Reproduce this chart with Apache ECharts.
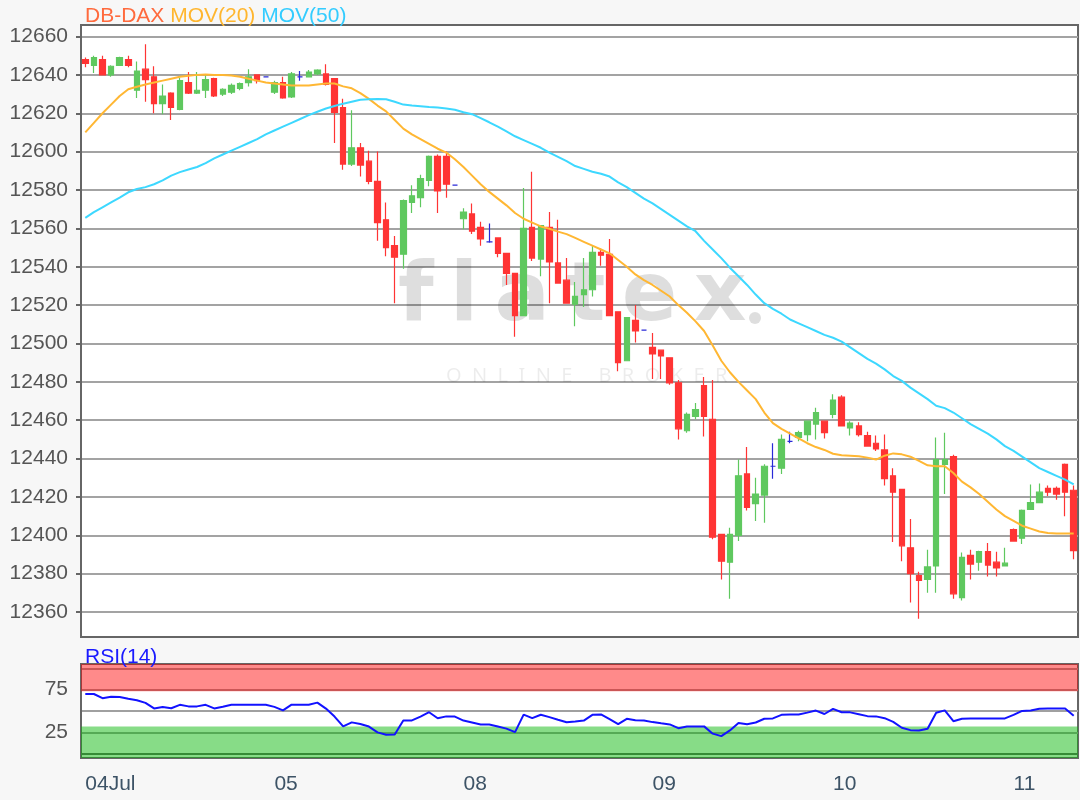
<!DOCTYPE html>
<html>
<head>
<meta charset="utf-8">
<title>DB-DAX</title>
<script src="https://cdn.jsdelivr.net/npm/echarts@6/dist/echarts.min.js"></script>
<style>
  html, body { margin: 0; padding: 0; background: #f7f7f7; }
  #chart { width: 1080px; height: 800px; }
</style>
</head>
<body>
<div id="chart"></div>
<script>
// trading days and number of candles shown per day
var days = ['04Jul', '05', '08', '09', '10', '11'];
var dayCounts = [22, 22, 22, 21, 21, 8];

var opens = [12648,12645,12648,12640,12645,12648,12632,12643,12639,12625,12630.5,12622,12636,12630.5,12632,12638,12630,12631,12633,12636,12640,12639,
  12631,12636,12628.5,12639,12639,12640.5,12640.5,12638,12623,12593.5,12602,12595,12584.5,12564.5,12551,12546.5,12573.5,12576,12585,12597.5,12597.5,12582.5,
  12565,12567.5,12560.5,12553,12555,12547,12536.5,12514.5,12560.5,12544,12560.5,12542,12533,12520.5,12525.5,12528,12547.5,12546.5,12516.5,12491,12512,12507,
  12498,12496.5,12492.5,12479.5,12454.5,12462,12478,12460.5,12400.5,12386,12400,12432,12416.5,12421,12436,12435,12449,12451,12452.5,12458,12459.5,
  12463,12472,12456,12457,12452,12448,12444.5,12431,12424,12393.5,12379,12377,12384,12437,12441,12367.5,12389.5,12386,12391.5,12386,12384,
  12403,12398.5,12413.5,12417,12424.5,12424.5,12437,12423.5];
var highs = [12649,12650,12650,12645,12649.5,12650,12647,12656,12644.5,12635,12631,12638.5,12641.5,12641.5,12640,12638.5,12633,12635.5,12636,12643,12640,12639,
  12637,12639,12641.5,12642,12642.5,12643,12645.5,12638,12627.5,12621.5,12604.5,12600.5,12600,12573.5,12556,12575,12582.5,12588,12598,12598.5,12600,12582.5,
  12570.5,12573,12563.5,12562.5,12555,12547,12536.5,12581,12589.5,12561.5,12568.5,12564.5,12544.5,12532,12544.5,12551,12549.5,12554.5,12516.5,12513.5,12520,12507,
  12505.5,12496.5,12492.5,12481,12464,12469,12482.5,12481,12400.5,12404,12439.5,12446,12430,12437,12448,12452.5,12454,12454.5,12459.5,12466.5,12459.5,
  12473.5,12473,12459.5,12459,12454,12452,12452.5,12435,12424,12408.5,12381,12392.5,12451,12453.5,12442,12391,12392.5,12392,12396,12391.5,12393.5,
  12403.5,12413.5,12426.5,12427,12426,12425.5,12437.5,12426];
var lows = [12644,12641,12640,12639,12645,12644,12628,12626,12620,12619.5,12616.5,12621.5,12630,12630,12628,12628.5,12629,12630,12632,12634,12635.5,12639,
  12630,12627.5,12628,12637,12639,12640,12634.5,12604.5,12590.5,12592.5,12587,12583,12553.5,12545.5,12521,12539,12568,12571,12582,12568,12576,12582.5,
  12559.5,12557,12551,12552.5,12545,12530.5,12503.5,12514.5,12543,12535,12521,12531.5,12521,12509,12519,12524.5,12540.5,12514.5,12485.5,12491,12500.5,12507,
  12481.5,12481.5,12478.5,12450,12453.5,12460.5,12451.5,12398,12377,12367,12397,12413,12407.5,12406.5,12429.5,12432,12448,12449,12449,12450,12450.5,
  12461,12457,12452,12451.5,12446.5,12444,12426,12396.5,12386.5,12365,12356.5,12370,12370,12421.5,12367,12366,12377,12381.5,12378.5,12378.5,12384,
  12397,12395.5,12413.5,12417,12420.5,12418.5,12410,12387.5];
var closes = [12646,12649,12640,12644.5,12649,12645,12642,12637.5,12625,12629,12623,12637,12630.5,12632,12637.5,12629,12632.5,12634.5,12635.5,12639,12637,12639,
  12636,12628,12640.5,12639,12641.5,12642.5,12635,12620.5,12593.5,12602,12593,12584.5,12563,12550,12545,12574.5,12577,12586,12597.5,12579.5,12583,12582.5,
  12568.5,12558.5,12554.5,12553,12547,12536.5,12514.5,12560,12544.5,12561.5,12542.5,12531.5,12521,12524.5,12528,12547.5,12546,12514.5,12490,12513.5,12506.5,12507,
  12494.5,12493.5,12479.5,12455.5,12463,12465.5,12462,12399,12386.5,12400.5,12431,12414.5,12421.5,12436,12436,12450,12449,12453.5,12459.5,12464,12453.5,
  12470.5,12457,12458.5,12452.5,12446.5,12445,12429.5,12422.5,12394.5,12380,12376.5,12383.5,12439.5,12439.5,12369.5,12388.5,12385,12391.5,12384.5,12383,12385.5,
  12397,12413,12417,12422.5,12422.5,12421.5,12422.5,12392];

var mov20 = [12610,12615,12620,12624.5,12629,12632.5,12633.8,12635,12636,12637,12638,12639,12639.5,12640,12640.2,12640,12640,12639.7,12639,12638,12637,12636,
  12635.5,12635,12634.5,12634.5,12634.5,12635,12635.5,12635.5,12634,12633,12630.5,12627.5,12624,12621,12616.5,12612,12609,12606.5,12604,12601.5,12599.5,12596,
  12592,12587.5,12583,12579,12575.5,12572,12568,12565,12563,12561,12559.8,12558.3,12557,12555,12553,12551,12549,12547,12543.5,12540,12536,12533,
  12530.5,12527.5,12524.5,12520,12516,12511.5,12506.5,12499,12491,12485,12480,12475.5,12471,12464,12458.5,12455.5,12453,12450.5,12448,12446,12444.5,
  12442.5,12441.7,12441.5,12441.2,12440.5,12439.5,12441.5,12442.7,12442.2,12441,12438.8,12436.5,12436,12436,12432.5,12428,12425,12421.5,12417.5,12413.5,12410,
  12407.5,12405,12403.5,12402,12401.2,12401,12401,12401];
var mov50 = [12565.5,12568.5,12571,12573.5,12576,12578.8,12580.5,12581.5,12583,12585,12587.5,12589.3,12590.7,12592,12594,12596.5,12598.5,12600.5,12602.5,12604.5,12606.5,12609,
  12611,12613,12615,12617,12619,12620.8,12622.5,12623.8,12625,12626,12627,12627.3,12627.4,12627.3,12626,12624.5,12624,12623.7,12623.3,12623,12622.5,12621.8,
  12620.5,12619.5,12617.5,12615.3,12613,12610.5,12608,12606,12604,12602,12599.5,12597.3,12595,12592.5,12591,12589.5,12588.5,12587,12584,12581.5,12578.5,12575.5,
  12573,12570,12567,12564,12561,12558.5,12553.5,12549,12544.5,12539.5,12535,12530.5,12525.5,12521,12518,12515.5,12512.5,12510.5,12508.5,12506.5,12504.5,
  12503,12501,12498,12495,12492,12489.5,12486.5,12483,12480.5,12477,12474,12471,12467.5,12466.3,12464,12461,12458,12455.5,12453,12450,12446.5,
  12444,12441,12438,12435,12433,12431,12429,12426.5];
var rsi = [69.9,69.9,65,66.7,66.5,64.3,62.6,59.5,53,54.8,53.2,57.2,55.4,55.4,57.2,53,55,57.4,57.4,57.4,57.4,57.2,
  54.8,50.8,57.4,57.4,57.4,59.8,52.8,43.5,32,36.7,34.8,31.8,25,22.3,22.5,39,39,43.5,48.6,41.5,43.7,43.5,
  38.8,36.6,34.3,34.2,31.8,29.4,25.3,45.7,41.6,45.6,42.8,39.8,36.9,37.8,38.8,45.5,46,40.5,34.6,40.8,39.2,39,
  37,35.6,34.3,29.9,31.8,32,32,23.5,20.6,27.3,36,34.5,36.5,40.9,41.3,45.5,46,46,48.1,50.5,46.5,
  52.5,48.6,48.4,46.2,44,43.7,41.6,37.2,30.4,27.6,27.3,29.3,48,50.7,38.1,41,41.3,41.3,41.3,41.3,41.3,
  45.4,50.1,50.7,52.7,53,53,53,44.5];

var priceTicks = [12360,12380,12400,12420,12440,12460,12480,12500,12520,12540,12560,12580,12600,12620,12640,12660];
var rsiLines = [0, 25, 50, 75, 100];
var rsiLabels = [25, 75];
var rsiHighBand = [73, 105];
var rsiLowBand = [-5, 32];

// category names: day label + running number inside the day
var categories = [];
days.forEach(function (d, di) {
  for (var k = 0; k < dayCounts[di]; k++) categories.push(d + '_' + k);
});
var candles = categories.map(function (c, i) {
  return [opens[i], closes[i], lows[i], highs[i]];
});
function isDayStart(idx, val) { return /_0$/.test(val); }

var font = 'Liberation Sans, Arial, sans-serif';
function titlePart(color) {
  return { color: color, fontSize: 21, fontWeight: 'normal', fontFamily: font };
}

var option = {
  animation: false,
  backgroundColor: '#f7f7f7',
  textStyle: { fontFamily: font },
  title: [{
    left: 80, top: 1,
    text: '{a|DB-DAX} {b|MOV(20)} {c|MOV(50)}',
    textStyle: {
      fontWeight: 'normal', fontSize: 21,
      rich: { a: titlePart('#ff6a3d'), b: titlePart('#ffb62e'), c: titlePart('#33ccff') }
    }
  }, {
    left: 80, top: 642,
    text: 'RSI(14)',
    textStyle: { color: '#1a1aff', fontSize: 21, fontWeight: 'normal', fontFamily: font }
  }],
  // flatex watermark, drawn semi transparent so the grid shows through
  graphic: [{
    type: 'text', left: 398, top: 258, z: 1, silent: true,
    style: { text: 'f\u2009l\u2009a\u2009t\u2009e\u2009x', fontSize: 82, fontWeight: 'bold',
      fill: 'rgba(0,0,0,0.13)', fontFamily: 'DejaVu Sans, sans-serif' }
  }, {
    type: 'circle', z: 1, silent: true,
    shape: { cx: 755, cy: 318, r: 6 },
    style: { fill: 'rgba(0,0,0,0.13)' }
  }, {
    type: 'text', left: 446, top: 366, z: 1, silent: true,
    style: { text: 'O  N  L  I  N  E     B  R  O  K  E  R', fontSize: 20,
      fill: 'rgba(0,0,0,0.075)', fontFamily: 'Noto Sans, sans-serif' }
  }],
  grid: [
    { left: 81, right: 2, top: 25, height: 612, show: true, backgroundColor: '#fff', borderColor: '#666', borderWidth: 2 },
    { left: 81, right: 2, top: 664, height: 94, show: true, backgroundColor: '#fff', borderColor: '#666', borderWidth: 2 }
  ],
  xAxis: [{
    type: 'category', gridIndex: 0, data: categories, boundaryGap: true,
    axisLine: { show: false }, axisTick: { show: false }, axisLabel: { show: false }, splitLine: { show: false }
  }, {
    type: 'category', gridIndex: 1, data: categories, boundaryGap: true,
    axisLine: { lineStyle: { color: '#666', width: 2 } },
    axisTick: { alignWithLabel: true, interval: isDayStart, length: 7, lineStyle: { color: '#556677', width: 2 } },
    axisLabel: {
      interval: isDayStart, align: 'left', margin: 16, color: '#3d5366', fontSize: 21,
      formatter: function (v) { return v.split('_')[0]; }
    },
    splitLine: { show: false }
  }],
  yAxis: [{
    type: 'value', gridIndex: 0, min: 12347, max: 12666,
    axisLine: { show: true, lineStyle: { color: '#666', width: 2 } },
    axisTick: { show: true, length: 5, customValues: priceTicks, lineStyle: { color: '#666', width: 2 } },
    axisLabel: { customValues: priceTicks, margin: 13, color: '#555', fontSize: 21,
      formatter: function (v) { return String(v); } },
    splitLine: { show: true, lineStyle: { color: '#a3a3a3', width: 2 } }
  }, {
    type: 'value', gridIndex: 1, min: -5, max: 105,
    axisLine: { show: true, lineStyle: { color: '#666', width: 2 } },
    axisTick: { show: false, customValues: rsiLines },
    axisLabel: { customValues: rsiLabels, margin: 13, color: '#555', fontSize: 21,
      formatter: function (v) { return String(v); } },
    splitLine: { show: true, lineStyle: { color: '#a0a0a0', width: 2 } }
  }],
  series: [{
    name: 'DB-DAX', type: 'candlestick', xAxisIndex: 0, yAxisIndex: 0, data: candles,
    barWidth: 6,
    itemStyle: {
      color: '#5fc85f', color0: '#ff3434',
      borderColor: '#5fc85f', borderColor0: '#ff3434', borderColorDoji: '#2a2ad8', borderWidth: 1.2
    }
  }, {
    name: 'MOV(20)', type: 'line', xAxisIndex: 0, yAxisIndex: 0, data: mov20,
    symbol: 'none', lineStyle: { color: '#ffb733', width: 2 }
  }, {
    name: 'MOV(50)', type: 'line', xAxisIndex: 0, yAxisIndex: 0, data: mov50,
    symbol: 'none', lineStyle: { color: '#3dd8ff', width: 2 }
  }, {
    name: 'RSI(14)', type: 'line', xAxisIndex: 1, yAxisIndex: 1, data: rsi,
    symbol: 'none', lineStyle: { color: '#1212ff', width: 2 }, z: 5,
    markArea: {
      silent: true,
      data: [
        [{ yAxis: rsiHighBand[0], itemStyle: { color: 'rgba(255,0,0,0.46)' } }, { yAxis: rsiHighBand[1] }],
        [{ yAxis: rsiLowBand[0], itemStyle: { color: 'rgba(0,180,0,0.47)' } }, { yAxis: rsiLowBand[1] }]
      ]
    }
  }]
};

var chart = echarts.init(document.getElementById('chart'));
chart.setOption(option);
window.addEventListener('resize', function () { chart.resize(); });
</script>
</body>
</html>
